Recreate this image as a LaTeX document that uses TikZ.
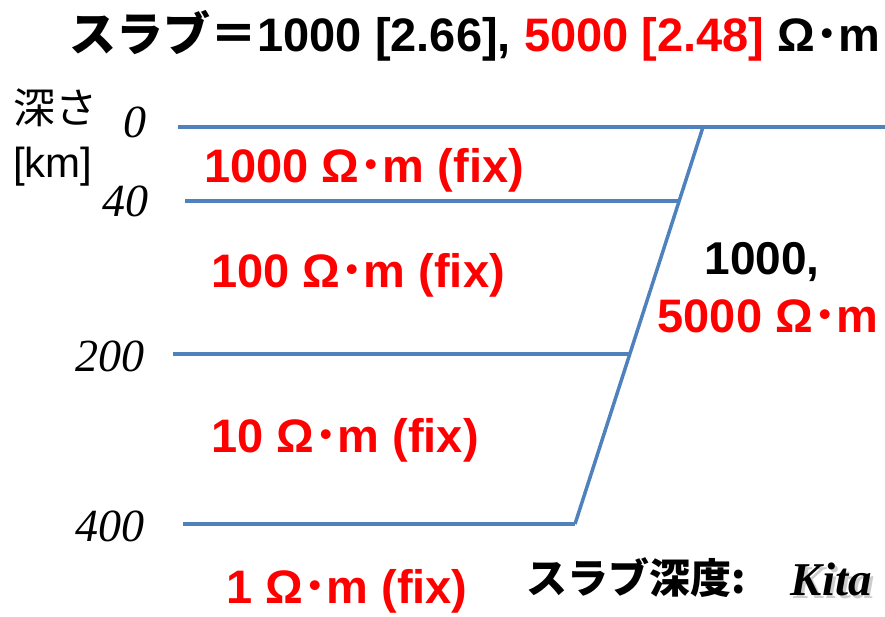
\documentclass[tikz,border=0pt]{standalone}
\usepackage{fontspec}
\setmainfont{Liberation Sans}
\newfontfamily\jp{Noto Sans CJK JP}
\newfontfamily\tms{Liberation Serif}
\definecolor{lineblue}{HTML}{4F81BD}
\begin{document}
\begin{tikzpicture}[x=1pt,y=-1pt,
  layer/.style={draw=lineblue,line width=3.5pt},
  redlab/.style={text=red,font=\fontsize{47}{50}\selectfont\bfseries,inner sep=0pt},
  depth/.style={font=\fontsize{46}{50}\selectfont\tms\itshape,inner sep=0pt},
  axislab/.style={font=\fontsize{42}{46}\selectfont,inner sep=0pt,anchor=west}]
\useasboundingbox (0,0) rectangle (885,617);
% geometry
\coordinate (s0) at (703,127);
\coordinate (s40) at (679,201);
\coordinate (s200) at (630,354);
\coordinate (s400) at (575,524);
\coordinate (l0) at (178,127);
\coordinate (r0) at (885,127);
\coordinate (l40) at (185,201);
\coordinate (l200) at (173,354);
\coordinate (l400) at (183,524);
\draw[layer] (l0) -- (r0);
\draw[layer] (l40) -- (s40);
\draw[layer] (l200) -- (s200);
\draw[layer] (l400) -- (s400);
\draw[layer] (s0) -- (s400);
% title
\node[inner sep=0pt,font=\fontsize{47}{50}\selectfont\bfseries] (title) at (475,36)
  {{\jp\bfseries スラブ＝}1000 [2.66], \textcolor{red}{5000 [2.48]} Ω{\jp\bfseries ･}m};
% axis labels
\node[axislab] (fuka) at (13,108) {\jp 深さ};
\node[axislab] (km) at (13,167) {[km]};
\node[depth] (d0) at (135,122) {0};
\node[depth] (d40) at (125,201) {40};
\node[depth] (d200) at (110,356) {200};
\node[depth] (d400) at (110,526) {400};
% layer labels
\node[redlab] (r1) at (364,170) {1000 Ω{\jp\bfseries ･}m (fix)};
\node[redlab] (r2) at (358,275) {100 Ω{\jp\bfseries ･}m (fix)};
\node[redlab] (r3) at (345,440) {10 Ω{\jp\bfseries ･}m (fix)};
\node[redlab] (r4) at (347,591) {1 Ω{\jp\bfseries ･}m (fix)};
% slab labels
\node[inner sep=0pt,font=\fontsize{46}{50}\selectfont\bfseries] (s1) at (762,262) {1000,};
\node[redlab] (s2) at (768,316) {5000 Ω{\jp\bfseries ･}m};
% bottom caption
\node[inner sep=0pt,font=\fontsize{41}{44}\selectfont\jp\bfseries,anchor=west] (cap) at (526,578)
  {スラブ深度:};
\node[inner sep=0pt,anchor=east,text=black!20,font=\fontsize{47}{50}\selectfont\tms\bfseries\itshape] (kitash) at (875,582) {Kita};
\node[inner sep=0pt,anchor=east,font=\fontsize{47}{50}\selectfont\tms\bfseries\itshape] (kita) at (872,579) {Kita};
\end{tikzpicture}
\end{document}
